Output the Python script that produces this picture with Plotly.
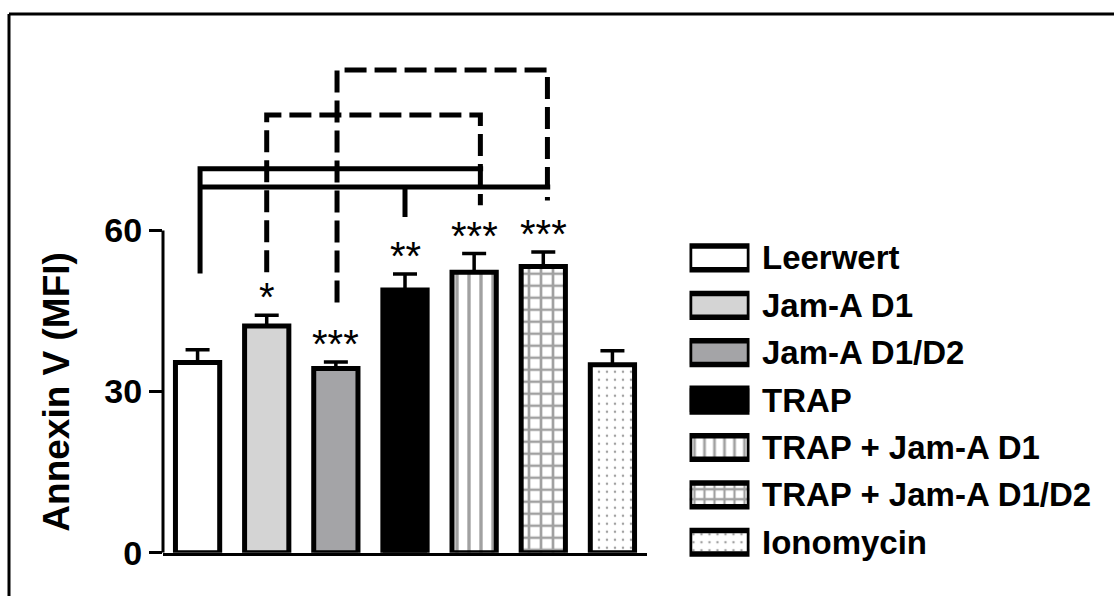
import plotly.graph_objects as go

# ---------------- data ----------------
categories = ["Leerwert", "Jam-A D1", "Jam-A D1/D2", "TRAP",
              "TRAP + Jam-A D1", "TRAP + Jam-A D1/D2", "Ionomycin"]
means = [35.4, 42.2, 34.3, 48.9, 52.2, 53.3, 35.0]
sems = [2.4, 2.0, 1.2, 3.0, 3.5, 2.7, 2.6]
significance = ["", "*", "***", "**", "***", "***", ""]
y_ticks = [0, 30, 60]
y_title = "Annexin V (MFI)"

# bracket polylines (x in category index units, y in MFI units)
solid_brackets_x = [[0.036, 0.036, 4.13], [0.036, 5.1], [3.0, 3.0]]
solid_brackets_y = [[52.0, 71.5, 71.5], [68.1, 68.1], [68.1, 62.5]]
dashed_brackets_x = [[2.017, 2.017, 5.06, 5.06], [1.0, 1.0, 4.09, 4.09]]
dashed_brackets_y = [[46.6, 89.9, 89.9, 65.6], [52.2, 81.5, 81.5, 64.7]]

# ---------------- styles ----------------
fills = ["white", "#d4d4d4", "#a4a4a7", "black", "white", "white", "white"]
pat_shapes = ["", "", "", "", "|", "+", "."]
pat_fg = ["black", "black", "black", "black", "black", "black", "#555555"]
pat_size = [12, 12, 12, 12, 12, 12, 8]
pat_solid = [0.3, 0.3, 0.3, 0.3, 0.28, 0.4, 0.08]

W = 1114
H_REF = 596          # visible picture height used for relative placement
H_LAYOUT = 616       # page height that gets fitted into the picture
FONT = "Arial, Liberation Sans, sans-serif"


def fy(px):
    """paper fraction for a target pixel row of the picture"""
    return 1 - px / H_REF


x_idx = list(range(len(categories)))

fig = go.Figure()

fig.add_trace(go.Bar(
    x=x_idx, y=means, width=0.64,
    marker=dict(color=fills, line=dict(color="black", width=5),
                pattern=dict(shape=pat_shapes, fgcolor=pat_fg, bgcolor=fills,
                             size=pat_size, solidity=pat_solid)),
    error_y=dict(type="data", symmetric=False, array=sems,
                 arrayminus=[0] * len(sems), color="black",
                 thickness=3.5, width=12),
    showlegend=False, hoverinfo="skip",
))

for xs, ys in zip(solid_brackets_x, solid_brackets_y):
    fig.add_trace(go.Scatter(x=xs, y=ys, mode="lines",
                             line=dict(color="black", width=5),
                             showlegend=False, hoverinfo="skip"))
for xs, ys in zip(dashed_brackets_x, dashed_brackets_y):
    fig.add_trace(go.Scatter(x=xs, y=ys, mode="lines",
                             line=dict(color="black", width=5, dash="22px,8px"),
                             showlegend=False, hoverinfo="skip"))

# legend swatches as horizontal bars on a second axis pair
fig.add_trace(go.Bar(
    y=x_idx, x=[1] * len(categories), base=0, orientation="h", width=0.5,
    xaxis="x2", yaxis="y2",
    marker=dict(color=fills, line=dict(color="black", width=5.5),
                pattern=dict(shape=pat_shapes, fgcolor=pat_fg, bgcolor=fills,
                             size=[10, 10, 10, 10, 10, 10, 8], solidity=pat_solid)),
    showlegend=False, hoverinfo="skip",
))

annotations = []
for i, s in enumerate(significance):
    if s:
        annotations.append(dict(x=i, y=means[i] + sems[i], xref="x", yref="y",
                                text=s, showarrow=False, yanchor="bottom",
                                yshift=-6,
                                font=dict(family=FONT, size=40, color="black")))
for i, name in enumerate(categories):
    annotations.append(dict(x=760 / W, y=i, xref="paper", yref="y2",
                            text=name, showarrow=False, xanchor="left",
                            yanchor="middle",
                            font=dict(family=FONT, size=33, color="black",
                                      weight="bold")))
annotations.append(dict(x=57 / W, y=fy(391), xref="paper", yref="paper",
                        text=y_title, showarrow=False, textangle=-90,
                        xanchor="center", yanchor="middle",
                        font=dict(family=FONT, size=37, color="black",
                                  weight="bold")))

shapes = [
    # y axis line 0..60
    dict(type="line", xref="paper", yref="y", x0=163 / W, x1=163 / W,
         y0=0, y1=y_ticks[-1], line=dict(color="black", width=3)),
    # outer frame (left and top)
    dict(type="line", xref="paper", yref="paper", x0=9 / W, x1=9 / W,
         y0=0, y1=fy(14), line=dict(color="black", width=3)),
    dict(type="line", xref="paper", yref="paper", x0=9 / W, x1=1,
         y0=fy(14), y1=fy(14), line=dict(color="black", width=3)),
]

fig.update_layout(
    width=W, height=H_LAYOUT, autosize=False,
    margin=dict(l=0, r=0, t=0, b=0, pad=0),
    paper_bgcolor="white", plot_bgcolor="rgba(0,0,0,0)",
    showlegend=False,
    xaxis=dict(domain=[163 / W, 647 / W], range=[-0.5, 6.5],
               showgrid=False, zeroline=False, showticklabels=False,
               ticks="", showline=True, linecolor="black", linewidth=3,
               fixedrange=True),
    yaxis=dict(domain=[fy(551.7), fy(15.7)], range=[0, 100],
               tickvals=y_ticks, ticks="outside", ticklen=13, tickwidth=3,
               tickcolor="black", showline=False, showgrid=False,
               zeroline=False,
               tickfont=dict(family=FONT, size=34, color="black",
                             weight="bold"),
               fixedrange=True),
    xaxis2=dict(domain=[689.5 / W, 749.5 / W], range=[0, 1], anchor="y2",
                visible=False, fixedrange=True),
    yaxis2=dict(domain=[fy(565), fy(233.85)], range=[6.5, -0.5],
                anchor="x2", visible=False, fixedrange=True),
    annotations=annotations,
    shapes=shapes,
)

post = (
    "var s=document.createElement('style');"
    "s.textContent='html,body{margin:0;padding:0;overflow:hidden;}';"
    "document.head.appendChild(s);"
)
fig.write_html("out.html",
               config={"displayModeBar": False, "responsive": False},
               post_script=post)
